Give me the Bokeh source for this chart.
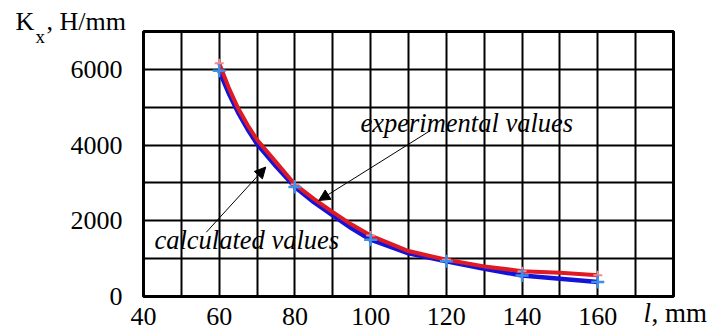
from bokeh.plotting import figure
from bokeh.models import (Range1d, FixedTicker, Label, Arrow, NormalHead, BoxAnnotation)
from bokeh.embed import file_html
from bokeh.resources import INLINE

# ---- data ----
length_mm = [60, 62.5, 65, 67.5, 70, 75, 80, 85, 90, 95, 100, 110, 120, 130, 140, 150, 160]
calculated = [5960, 5370, 4860, 4420, 4030, 3440, 2890, 2490, 2140, 1800, 1500, 1140, 930, 730, 555, 470, 380]
experimental = [6160, 5520, 4970, 4530, 4140, 3550, 2960, 2580, 2230, 1900, 1610, 1200, 970, 795, 670, 625, 560]
marker_l = [60, 80, 100, 120, 140, 160]
x_tick_vals = [40, 60, 80, 100, 120, 140, 160]
y_tick_vals = [0, 2000, 4000, 6000]

calc_mark = [calculated[length_mm.index(v)] for v in marker_l]
exp_mark = [experimental[length_mm.index(v)] for v in marker_l]

FONT = "Liberation Serif"
X0, X1, Y0, Y1 = 40, 180, 0, 7000          # extent of the chart box
W, H = 715, 329                              # canvas size in px
BOX_L, BOX_T, BOX_W, BOX_H = 143, 31, 530, 265   # chart box placement in px
sx = (X1 - X0) / BOX_W
sy = (Y1 - Y0) / BOX_H
x_range = Range1d(X0 - BOX_L * sx, X1 + (W - BOX_L - BOX_W) * sx)
y_range = Range1d(Y0 - (H - BOX_T - BOX_H) * sy, Y1 + BOX_T * sy)

p = figure(width=W, height=H, x_range=x_range, y_range=y_range,
           output_backend="svg", toolbar_location=None,
           min_border=0)
p.background_fill_color = "white"
p.border_fill_color = "white"
p.outline_line_color = None

# axes fixed on the chart box edges
xax = p.xaxis[0]
xax.fixed_location = Y0
xax.ticker = FixedTicker(ticks=x_tick_vals)
yax = p.yaxis[0]
yax.fixed_location = X0
yax.ticker = FixedTicker(ticks=y_tick_vals)
for ax in (xax, yax):
    ax.major_tick_line_color = None
    ax.minor_tick_line_color = None
    ax.axis_line_color = None
    ax.major_label_text_font = FONT
    ax.major_label_text_font_size = "26px"
    ax.major_label_text_color = "black"
xax.major_label_standoff = 5
yax.major_label_standoff = 15

p.xgrid.ticker = FixedTicker(ticks=list(range(50, 180, 10)))
p.ygrid.ticker = FixedTicker(ticks=list(range(1000, 7000, 1000)))
p.xgrid[0].cross_bounds = (Y0, Y1)
p.ygrid[0].cross_bounds = (X0, X1)
for g in (p.xgrid[0], p.ygrid[0]):
    g.grid_line_color = "black"
    g.grid_line_width = 2
    g.grid_line_alpha = 1

p.add_layout(BoxAnnotation(left=X0, right=X1, bottom=Y0, top=Y1, fill_alpha=0,
                           line_color="black", line_width=3, line_alpha=1))

# curves
p.line(length_mm, calculated, line_color="#1414d8", line_width=4.5, line_join="round")
p.line(length_mm, experimental, line_color="#e01a24", line_width=4, line_join="round")
p.scatter(marker_l, exp_mark, marker="cross", size=9, line_color="#f28a8a", line_width=2)
p.scatter(marker_l, calc_mark, marker="cross", size=13, line_color="#3f8fe8", line_width=2.5)

def lab(x, y, text, dx, dy, size=26, style="normal"):
    # vertical offset dy is for the text baseline; labels are centred vertically
    p.add_layout(Label(x=x, y=y, x_offset=dx, y_offset=dy + 0.34 * size, text=text,
                       text_font=FONT, text_font_size=f"{size}px", text_font_style=style,
                       text_color="black", text_baseline="middle"))

# axis titles
lab(X0, Y1, "K", -128, 1)
lab(X0, Y1, "x", -108, -11, size=19)
lab(X0, Y1, ", H/mm", -97, 1)
lab(X1, Y0, "l", -30, -26, size=27, style="italic")
lab(X1, Y0, ", mm", -22, -26, size=27)

# annotations
lab(97.3, 4340, "experimental values", 0, 0, size=26.5, style="italic")
lab(42.9, 1260, "calculated values", 0, 0, size=26.5, style="italic")
p.add_layout(Arrow(x_start=115.8, y_start=4385, x_end=86.3, y_end=2536,
                   line_width=1, line_color="black",
                   end=NormalHead(size=11, fill_color="black", line_color="black")))
p.add_layout(Arrow(x_start=56.6, y_start=1698, x_end=72.3, y_end=3420,
                   line_width=1, line_color="black",
                   end=NormalHead(size=11, fill_color="black", line_color="black")))

open("out.html", "w").write(file_html(p, INLINE))
